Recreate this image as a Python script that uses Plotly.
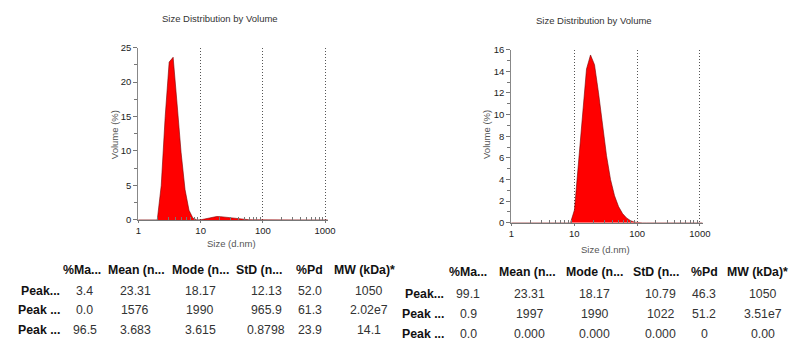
import plotly.graph_objects as go

# Size bins (d.nm) of the distribution, 0.96 nm to 1.1 um
size_nm = [0.9649, 1.117, 1.294, 1.499, 1.736, 2.010, 2.328, 2.696, 3.122, 3.615,
           4.187, 4.849, 5.615, 6.503, 7.531, 8.721, 10.10, 11.70, 13.54, 15.69,
           18.17, 21.04, 24.36, 28.21, 32.67, 37.84, 43.82, 50.75, 58.77, 68.06,
           78.82, 91.28, 105.7, 122.4, 141.8, 164.2, 190.1, 220.2, 255.0, 295.3,
           342.0, 396.1, 458.7, 531.2, 615.1, 712.4, 825.0, 955.4, 1106]

# Volume (%) per bin, sample A
volume_a = [0, 0, 0, 0, 0, 0, 5.0, 15.0, 22.9, 23.6,
            16.8, 9.8, 4.4, 1.4, 0.25, 0, 0.02, 0.15, 0.32, 0.45,
            0.50, 0.47, 0.40, 0.32, 0.25, 0.18, 0.12, 0.07, 0.03, 0.01,
            0, 0, 0, 0, 0, 0, 0, 0, 0, 0,
            0, 0, 0, 0, 0, 0, 0, 0, 0]

# Volume (%) per bin, sample B
volume_b = [0, 0, 0, 0, 0, 0, 0, 0, 0, 0,
            0, 0, 0, 0, 0, 0, 1.2, 5.5, 10.5, 14.2,
            15.5, 14.6, 12.0, 9.0, 6.2, 4.0, 2.5, 1.5, 0.85, 0.45,
            0.2, 0.06, 0, 0, 0, 0, 0, 0, 0, 0,
            0, 0, 0, 0, 0, 0, 0, 0, 0]

x_ticks = [1, 10, 100, 1000]
x_tick_labels = ["1", "10", "100", "1000"]

# Peak summary tables
col_headers = ["%Ma...", "Mean (n...", "Mode (n...", "StD (n...", "%Pd", "MW (kDa)*"]
row_labels = ["Peak...", "Peak ...", "Peak ..."]
table_a = [["3.4", "23.31", "18.17", "12.13", "52.0", "1050"],
           ["0.0", "1576", "1990", "965.9", "61.3", "2.02e7"],
           ["96.5", "3.683", "3.615", "0.8798", "23.9", "14.1"]]
table_b = [["99.1", "23.31", "18.17", "10.79", "46.3", "1050"],
           ["0.9", "1997", "1990", "1022", "51.2", "3.51e7"],
           ["0.0", "0.000", "0.000", "0.000", "0", "0.00"]]

W, H = 795, 343
FONT = "Liberation Sans, Arial, sans-serif"
DECADE_PX = 63.1      # width of one decade on the size axis
X_PAD = 0.045         # extra log range past 1000 so its dotted grid line is kept


def fx(x):
    return x / W


def fy(y):
    return 1 - y / H


minor_log = [m * 10 ** d for d in range(3) for m in range(2, 10)]

fig = go.Figure()
fig.add_trace(go.Scatter(x=size_nm, y=volume_a, mode="lines", fill="tozeroy",
                         fillcolor="#ff0000", line=dict(color="#7a0000", width=0.6),
                         xaxis="x", yaxis="y", hoverinfo="skip"))
fig.add_trace(go.Scatter(x=size_nm, y=volume_b, mode="lines", fill="tozeroy",
                         fillcolor="#ff0000", line=dict(color="#7a0000", width=0.6),
                         xaxis="x2", yaxis="y2", hoverinfo="skip"))

tickfont = dict(family=FONT, size=9.5, color="#222")


def xaxis_cfg(x0, x1, anchor):
    return dict(type="log", range=[0, 3 + X_PAD],
                domain=[fx(x0), fx(x1 + X_PAD * DECADE_PX)], anchor=anchor,
                tickvals=x_ticks, ticktext=x_tick_labels, tickfont=tickfont,
                ticks="outside", ticklen=2, tickcolor="#777",
                showgrid=True, gridcolor="#555", griddash="1px,2px", gridwidth=1,
                showline=True, linecolor="#777", linewidth=1.2, zeroline=False,
                minor=dict(tickvals=minor_log, ticks="inside", ticklen=3,
                           tickcolor="#777", showgrid=False))


def yaxis_cfg(y0, y1, top, dtick, anchor):
    return dict(range=[0, top], domain=[fy(y0), fy(y1)], anchor=anchor,
                dtick=dtick, tickfont=tickfont, ticks="outside", ticklen=4,
                tickcolor="#777", showgrid=False, showline=True, linecolor="#888",
                linewidth=1.2, zeroline=False,
                minor=dict(dtick=dtick / 2, ticks="outside", ticklen=3,
                           tickcolor="#777"))


fig.update_layout(
    width=W, height=H, margin=dict(l=0, r=0, t=0, b=0),
    paper_bgcolor="white", plot_bgcolor="white", showlegend=False,
    xaxis=xaxis_cfg(137.3, 326.6, "y"),
    yaxis=yaxis_cfg(221, 43, 25, 5, "x"),
    xaxis2=xaxis_cfg(515.5, 706.7, "y2"),
    yaxis2=yaxis_cfg(224, 45, 16, 2, "x2"),
)

ann = []


def text(x, y, s, size=9.5, color="#333", xanchor="center", angle=0):
    ann.append(dict(x=fx(x), y=fy(y), xref="paper", yref="paper", text=s,
                    showarrow=False, xanchor=xanchor, yanchor="middle",
                    textangle=angle, font=dict(family=FONT, size=size, color=color)))


# chart titles and axis titles
text(220, 13, "Size Distribution by Volume")
text(599, 15, "Size Distribution by Volume")
text(232, 245, "Size (d.nm)", color="#555")
text(611, 252, "Size (d.nm)", color="#555")
text(113, 133, "Volume (%)", color="#555", angle=-90)
text(491, 133, "Volume (%)", color="#555", angle=-90)


def table(rows, head_y, row_ys, head_x, val_x, label_right):
    for h, x in zip(col_headers, head_x):
        text(x, head_y, "<b>" + h + "</b>", size=12.3, color="#111")
    for lab, ry, vals in zip(row_labels, row_ys, rows):
        text(label_right, ry, "<b>" + lab + "</b>", size=12.3, color="#111", xanchor="right")
        for v, x in zip(vals, val_x):
            text(x, ry, v, size=12.3, color="#333")


table(table_a, 273, [294, 314, 335],
      [80, 135, 200, 260, 311, 367], [83, 134, 200, 267, 311, 371], 60)
table(table_b, 275, [298, 318, 339],
      [472, 532, 600, 662, 711, 765], [472, 534, 600, 667, 711, 771], 449)

fig.update_layout(annotations=ann)
fig.write_html("out.html")
